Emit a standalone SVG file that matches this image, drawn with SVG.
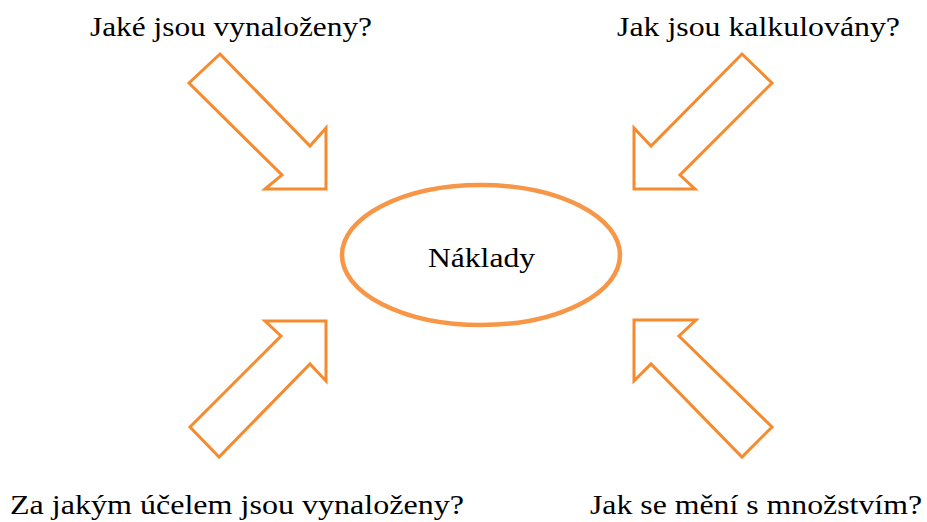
<svg xmlns="http://www.w3.org/2000/svg" width="927" height="522" viewBox="0 0 927 522">
<style>
.arr{fill:#fff;stroke:#F58A2E;stroke-width:3;stroke-linejoin:miter}
.t{font-family:"Liberation Serif","Times New Roman",serif;font-size:28px;fill:#000;text-anchor:middle}
</style>
<rect width="927" height="522" fill="#fff"/>
<g id="connectors">
<polygon class="arr" points="220,54 310,146 326,128 326,189 265,189 282,175 189,83"/>
<polygon class="arr" points="742,54 772,83 680,175 695,189 634,189 634,128 651,146"/>
<polygon class="arr" points="219,457 190,427 281,336 265,321 326,321 326,381 310,364"/>
<polygon class="arr" points="634,320 696,320 679,336 772,427 742,457 651,364 634,381"/>
</g>
<g id="naklady">
<ellipse cx="481" cy="255" rx="139" ry="70" fill="#fff" stroke="#F79646" stroke-width="4.5"/>
<text class="t" x="481.5" y="267" font-size="29" textLength="107" lengthAdjust="spacingAndGlyphs">Náklady</text>
</g>
<g id="q1"><text class="t" x="231" y="36" textLength="282" lengthAdjust="spacingAndGlyphs">Jaké jsou vynaloženy?</text></g>
<g id="q2"><text class="t" x="758.5" y="36" textLength="283" lengthAdjust="spacingAndGlyphs">Jak jsou kalkulovány?</text></g>
<g id="q3"><text class="t" x="237" y="514" textLength="454" lengthAdjust="spacingAndGlyphs">Za jakým účelem jsou vynaloženy?</text></g>
<g id="q4"><text class="t" x="756" y="514" textLength="332" lengthAdjust="spacingAndGlyphs">Jak se mění s množstvím?</text></g>
</svg>
